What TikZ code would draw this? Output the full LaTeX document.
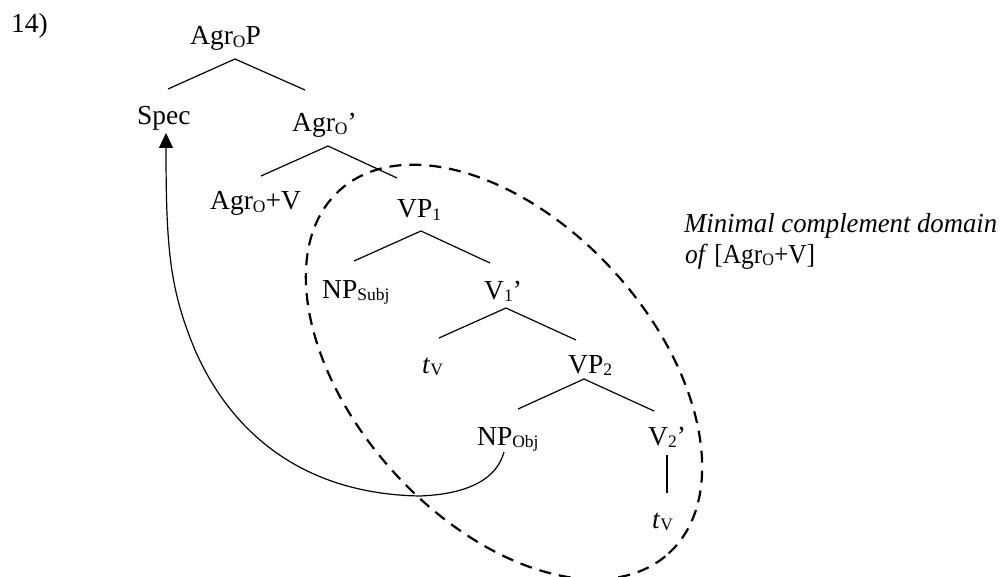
\documentclass[tikz,border=0pt]{standalone}
\usepackage{fontspec}
\usepackage{graphicx}
\setmainfont{Liberation Serif}
\usetikzlibrary{arrows.meta}
\newcommand{\subsc}[1]{\raisebox{-2.5pt}{\fontsize{17.5}{20}\selectfont #1}}
\tikzset{
  lbl/.style={anchor=base west, inner sep=0pt, font=\fontsize{27.5}{33}\selectfont},
  branch/.style={line width=1.2pt},
  domainline/.style={line width=2.2pt, dash pattern=on 12pt off 8pt},
  moveline/.style={line width=1.2pt, -{Triangle[length=15pt,width=14pt]}}
}
\begin{document}
\begin{tikzpicture}[x=1pt,y=-1pt]
\useasboundingbox (0,0) rectangle (1000,577);
% labels
\node[lbl] (num) at (11,33) {14)};
\node[lbl] (agrop) at (190,45) {Agr\subsc{O}P};
\node[lbl] (spec) at (137,125) {Spec};
\node[lbl] (agrobar) at (292,132) {Agr\subsc{O}’};
\node[lbl] (agrov) at (210,210) {Agr\subsc{O}+V};
\node[lbl] (vp1) at (397,218) {VP\subsc{1}};
\node[lbl] (npsubj) at (322,298) {NP\subsc{Subj}};
\node[lbl] (v1bar) at (484,299) {V\subsc{1}’};
\node[lbl] (tv1) at (422,373) {\textit{t}\subsc{V}};
\node[lbl] (vp2) at (568,373) {VP\subsc{2}};
\node[lbl] (npobj) at (477,445) {NP\subsc{Obj}};
\node[lbl] (v2bar) at (648,445) {V\subsc{2}’};
\node[lbl] (tv2) at (652,528) {\textit{t}\subsc{V}};
\node[lbl] (cap1) at (684,233) {\resizebox{313pt}{\height}{\textit{Minimal complement domain}}};
\node[lbl] (cap2) at (685,263) {\resizebox{130pt}{\height}{\textit{of} [Agr\subsc{O}+V]}};
% branch points
\coordinate (a0) at (235,59);  \coordinate (a1) at (168,89);  \coordinate (a2) at (305,90);
\coordinate (b0) at (328,146); \coordinate (b1) at (261,176); \coordinate (b2) at (397,178);
\coordinate (c0) at (421,231); \coordinate (c1) at (354,261); \coordinate (c2) at (490,263);
\coordinate (d0) at (506,308); \coordinate (d1) at (439,338); \coordinate (d2) at (576,340);
\coordinate (e0) at (584,379); \coordinate (e1) at (518,409); \coordinate (e2) at (654,411);
\coordinate (f0) at (667,455); \coordinate (f1) at (667,493);
\draw[branch] (a1) -- (a0) -- (a2);
\draw[branch] (b1) -- (b0) -- (b2);
\draw[branch] (c1) -- (c0) -- (c2);
\draw[branch] (d1) -- (d0) -- (d2);
\draw[branch] (e1) -- (e0) -- (e2);
\draw[branch] (f0) -- (f1);
% domain ellipse
\coordinate (ec) at (504,372);
\draw[domainline, rotate around={-47.8:(ec)}] (ec) ellipse [x radius=245pt, y radius=149pt];
% movement arrow
\coordinate (m0) at (504,452);
\coordinate (m1) at (420,496);
\coordinate (m2) at (195,350);
\coordinate (m3) at (166,133);
\draw[moveline] (m0) .. controls (497,478) and (470,494) .. (m1)
  .. controls (300,494) and (230,430) .. (m2)
  .. controls (170,290) and (166,250) .. (m3);
\end{tikzpicture}
\end{document}
